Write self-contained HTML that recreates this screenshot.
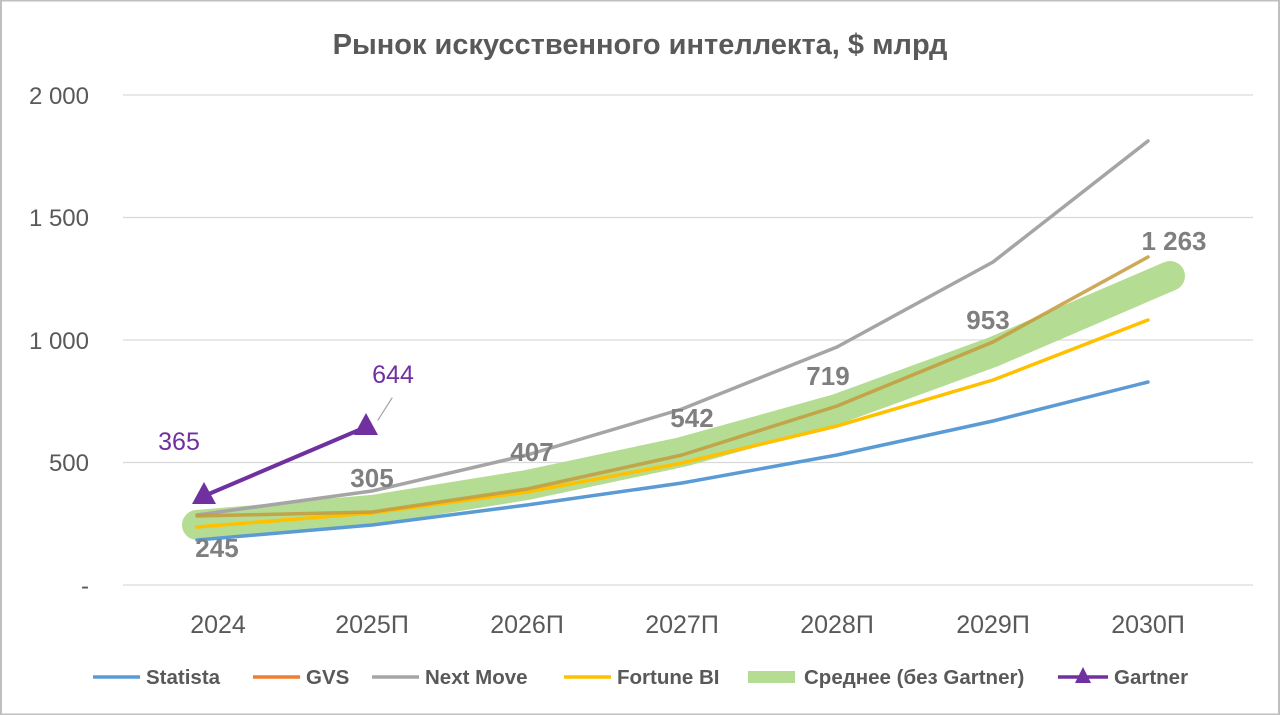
<!DOCTYPE html>
<html><head><meta charset="utf-8"><style>
body{margin:0;background:#fff}
svg{display:block;font-family:"Liberation Sans","DejaVu Sans",sans-serif}
</style></head><body>
<svg width="1280" height="715" viewBox="0 0 1280 715" xmlns="http://www.w3.org/2000/svg">
<rect x="1" y="0.5" width="1278" height="714" fill="#fff" stroke="#bfbfbf" stroke-width="2"/>
<text x="640" y="54" text-anchor="middle" font-size="29" font-weight="bold" fill="#595959">Рынок искусственного интеллекта, $ млрд</text>
<g stroke="#d9d9d9" stroke-width="1.3">
<line x1="123" y1="95" x2="1253" y2="95"/><line x1="123" y1="217.5" x2="1253" y2="217.5"/>
<line x1="123" y1="340" x2="1253" y2="340"/><line x1="123" y1="462.5" x2="1253" y2="462.5"/>
<line x1="123" y1="585" x2="1253" y2="585"/>
</g>
<g font-size="24" fill="#595959" text-anchor="end">
<text x="89" y="104">2 000</text><text x="89" y="226">1 500</text><text x="89" y="349">1 000</text><text x="89" y="471">500</text><text x="89" y="594">-</text>
</g>
<g font-size="25" fill="#595959" text-anchor="middle">
<text x="218" y="633">2024</text><text x="372" y="633">2025П</text><text x="527" y="633">2026П</text><text x="682" y="633">2027П</text><text x="837" y="633">2028П</text><text x="993" y="633">2029П</text><text x="1148" y="633">2030П</text>
</g>
<g fill="none" stroke-linejoin="round" stroke-linecap="round">
<polyline stroke="#b4dc92" stroke-width="30" points="197,525 372,510 527,485 682,452 837,409 993,352 1170,276"/>
<polyline stroke="#5b9bd5" stroke-width="3.5" points="197,540 372,525 527,505 682,483 837,455 993,421 1148,382"/>
<polyline stroke="#a5a5a5" stroke-width="3.5" points="197,515 372,491 527,455 682,409 837,347 993,262 1148,141"/>
<polyline stroke="#ffc000" stroke-width="3.5" points="197,527 372,513 527,492 682,463 837,426 993,380 1148,320"/>
<polyline stroke="#c49a3c" stroke-width="3.5" opacity="0.85" points="197,516 372,512 527,489 682,455 837,406 993,342 1148,257"/>
<polyline stroke="#7030a0" stroke-width="4" points="204,496 366,427"/>
<line x1="378" y1="420" x2="392" y2="398" stroke="#a5a5a5" stroke-width="1.2"/>
</g>
<polygon points="204,482 192,504 216,504" fill="#7030a0"/>
<polygon points="366,413 354,435 378,435" fill="#7030a0"/>
<g font-size="26" font-weight="bold" fill="#7f7f7f" text-anchor="middle">
<text x="217" y="557">245</text><text x="372" y="487">305</text><text x="532" y="461">407</text><text x="692" y="427">542</text><text x="828" y="385">719</text><text x="988" y="329">953</text><text x="1174" y="250">1 263</text>
</g>
<g font-size="25" fill="#7030a0" text-anchor="middle">
<text x="179" y="450">365</text><text x="393" y="383">644</text>
</g>
<g font-size="20.5" font-weight="bold" fill="#595959">
<line x1="93" y1="677" x2="140" y2="677" stroke="#5b9bd5" stroke-width="3.5"/><text x="146" y="684">Statista</text>
<line x1="253" y1="677" x2="300" y2="677" stroke="#ed7d31" stroke-width="3.5"/><text x="306" y="684">GVS</text>
<line x1="372" y1="677" x2="419" y2="677" stroke="#a5a5a5" stroke-width="3.5"/><text x="425" y="684">Next Move</text>
<line x1="564" y1="677" x2="611" y2="677" stroke="#ffc000" stroke-width="3.5"/><text x="617" y="684">Fortune BI</text>
<line x1="748" y1="677" x2="795" y2="677" stroke="#b4dc92" stroke-width="12"/><text x="804" y="684">Среднее (без Gartner)</text>
<line x1="1058" y1="677" x2="1108" y2="677" stroke="#7030a0" stroke-width="3.5"/><polygon points="1083,667 1075,683 1091,683" fill="#7030a0"/><text x="1114" y="684">Gartner</text>
</g>
</svg>
</body></html>
